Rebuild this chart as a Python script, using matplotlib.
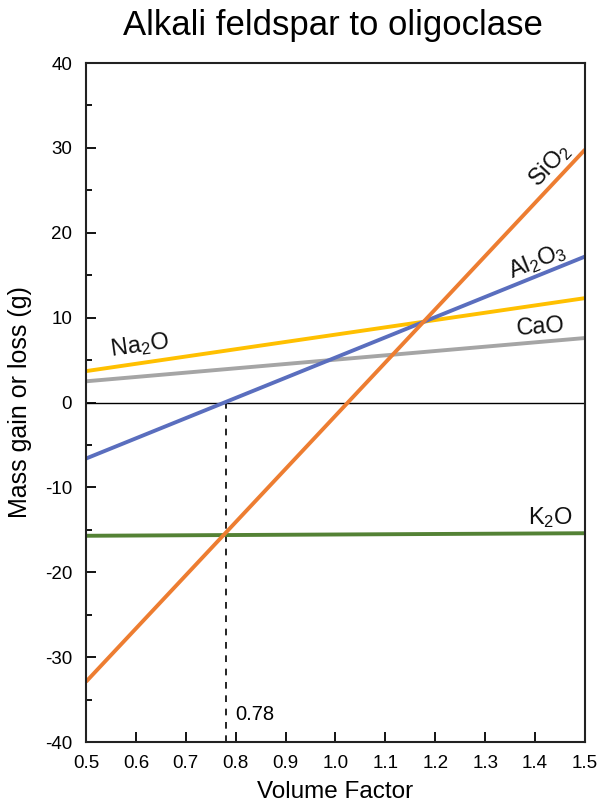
import matplotlib
matplotlib.use("Agg")
import matplotlib.pyplot as plt
from matplotlib.ticker import MultipleLocator, FormatStrFormatter

plt.rcParams['font.family'] = ['Liberation Sans', 'DejaVu Sans']
plt.rcParams['mathtext.fontset'] = 'custom'
plt.rcParams['mathtext.rm'] = 'Liberation Sans'
plt.rcParams['mathtext.it'] = 'Liberation Sans'
plt.rcParams['mathtext.bf'] = 'Liberation Sans'
plt.rcParams['axes.unicode_minus'] = False

x_ends = [0.5, 1.5]
sio2 = [-32.9, 29.8]
al2o3 = [-6.6, 17.2]
na2o = [3.7, 12.3]
cao = [2.5, 7.6]
k2o = [-15.7, -15.4]
vf_marker = 0.78

series = [
    ("SiO$_2$", sio2, "#ED7D31"),
    ("Al$_2$O$_3$", al2o3, "#5A6EBE"),
    ("Na$_2$O", na2o, "#FFC000"),
    ("CaO", cao, "#A5A5A5"),
    ("K$_2$O", k2o, "#548235"),
]

fig = plt.figure(figsize=(5.99, 8.02), dpi=100)
ax = fig.add_axes([0.1436, 0.0748, 0.8330, 0.8466])

ax.axhline(0, color="black", lw=1.0, zorder=1)
ax.plot([vf_marker, vf_marker], [-40, 0], color="black", lw=1.2, ls=(0, (4, 4)), zorder=1)

order = ["CaO", "Na$_2$O", "Al$_2$O$_3$", "K$_2$O", "SiO$_2$"]
for name in order:
    for n, vals, c in series:
        if n == name:
            ax.plot(x_ends, vals, color=c, lw=2.8, solid_capstyle="butt", zorder=2)

ax.set_xlim(0.5, 1.5)
ax.set_ylim(-40, 40)
ax.xaxis.set_major_locator(MultipleLocator(0.1))
ax.yaxis.set_major_locator(MultipleLocator(10))
ax.yaxis.set_minor_locator(MultipleLocator(5))
ax.xaxis.set_major_formatter(FormatStrFormatter("%.1f"))
ax.tick_params(axis="both", which="major", direction="in", length=7, width=1.3)
ax.tick_params(axis="x", which="major", labelsize=13.5, pad=9)
ax.tick_params(axis="y", which="major", labelsize=13.5, pad=10)
ax.tick_params(axis="y", which="minor", direction="in", length=4, width=1.3)
for s in ax.spines.values():
    s.set_linewidth(1.5)
    s.set_color("#222222")

ax.set_xlabel("Volume Factor", fontsize=17.5, labelpad=7)
ax.set_ylabel("Mass gain or loss (g)", fontsize=18, labelpad=9)
fig.text(0.556, 0.968, "Alkali feldspar to oligoclase", ha="center", va="center", fontsize=25)

lbl_kw = dict(fontsize=17, color="#111111", ha="center", va="center")
ax.text(1.43, 28.0, "SiO$_2$", rotation=47, **lbl_kw)
ax.text(1.405, 16.6, "Al$_2$O$_3$", rotation=22, **lbl_kw)
ax.text(0.607, 6.7, "Na$_2$O", rotation=8, **lbl_kw)
ax.text(1.41, 8.9, "CaO", rotation=4, **lbl_kw)
ax.text(1.43, -13.6, "K$_2$O", rotation=0, **lbl_kw)
ax.text(0.80, -36.8, "0.78", fontsize=14.5, ha="left", va="center")

fig.savefig("out.png", dpi=100)
